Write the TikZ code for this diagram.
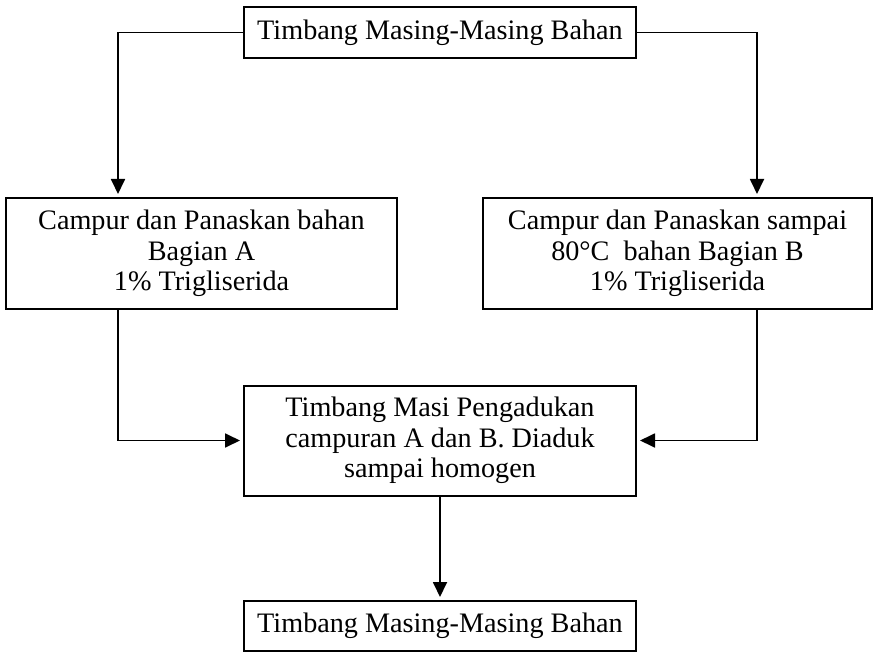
\documentclass[tikz,border=0pt]{standalone}
\usepackage{fontspec}
\setmainfont{Liberation Serif}
\usetikzlibrary{arrows.meta}
\begin{document}
\begin{tikzpicture}[x=1pt,y=-1pt,
  box/.style={draw, line width=2pt, align=center, inner sep=0pt,
    font=\fontsize{28.2}{30.5}\selectfont},
  conn/.style={line width=1.8pt},
  arr/.style={conn, -{Triangle[length=15pt,width=14pt]}, shorten >=3pt}]
\useasboundingbox (0,0) rectangle (874,652);
\node[box, minimum width=392pt, minimum height=51pt] (top) at (440,32.5) {Timbang Masing-Masing Bahan};
\node[box, minimum width=391pt, minimum height=111pt] (lb) at (201.5,253.5) {Campur dan Panaskan bahan\\Bagian A\\1\% Trigliserida};
\node[box, minimum width=389pt, minimum height=111pt] (rb) at (677.5,253.5) {Campur dan Panaskan sampai\\80°C\ \ bahan Bagian B\\1\% Trigliserida};
\node[box, minimum width=392pt, minimum height=110pt] (mid) at (440,440.5) {Timbang Masi Pengadukan\\campuran A dan B. Diaduk\\sampai homogen};
\node[box, minimum width=392pt, minimum height=50pt] (bot) at (440,626) {Timbang Masing-Masing Bahan};
\coordinate (cl) at (118,0);
\coordinate (cr) at (757,0);
\draw[arr] (top.west) -| (cl |- lb.north);
\draw[arr] (top.east) -| (cr |- rb.north);
\draw[arr] (cl |- lb.south) |- (mid.west);
\draw[arr] (cr |- rb.south) |- (mid.east);
\draw[arr] (mid.south) -- (bot.north);
\end{tikzpicture}
\end{document}
